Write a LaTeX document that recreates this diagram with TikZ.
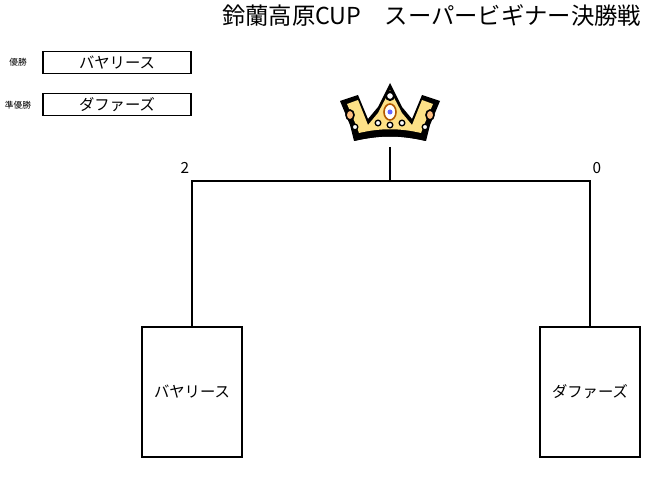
\documentclass[tikz,border=0pt]{standalone}
\usepackage{fontspec}
\setmainfont{Noto Sans CJK JP}
\begin{document}
\begin{tikzpicture}[x=0.75pt,y=-0.75pt,
  box/.style={draw,line width=0.8pt,inner sep=0pt},
  ln/.style={line width=0.8pt},
  lab/.style={font=\fontsize{11.5}{12}\selectfont}]
\useasboundingbox (0,0) rectangle (647,477);
\node[anchor=east,font=\fontsize{17.5}{18}\selectfont] (title) at (646,16) {鈴蘭高原CUP　スーパービギナー決勝戦};
\node[font=\fontsize{6.5}{7}\selectfont] (w1) at (18,62) {優勝};
\node[box,minimum width=111pt,minimum height=17pt,lab] (wb) at (117,62.5) {バヤリース};
\node[font=\fontsize{6.5}{7}\selectfont] (w2) at (18,105) {準優勝};
\node[box,minimum width=111pt,minimum height=17pt,lab] (rb) at (117,104.5) {ダファーズ};
% crown
\begin{scope}[shift={(390,115)}]
\fill[black] (-50,-14) -- (-32,-20) -- (-22,4) -- (-12,-8) -- (0,-32) -- (12,-8) -- (22,4) -- (32,-20) -- (50,-14) -- (40,10) -- (36,26) .. controls (10,20) and (-10,20) .. (-36,26) -- (-40,10) -- cycle;
\fill[yellow!55!orange!45] (-43,-11) -- (-32,-15) -- (-22,10) -- (-12,-2) -- (0,-25) -- (12,-2) -- (22,10) -- (32,-15) -- (43,-11) -- (34,10) -- (31,18) .. controls (10,13) and (-10,13) .. (-31,18) -- (-34,10) -- cycle;
\fill[black] (-34,21) .. controls (-10,14) and (10,14) .. (34,21) -- (36,26) .. controls (10,20) and (-10,20) .. (-36,26) -- cycle;
\draw[fill=white,line width=1.5pt] (0,-19) circle (4);
\draw[fill=white,draw=orange!70!black,line width=1.2pt] (0,-3) ellipse (6 and 8);
\fill[blue!60] (0,-3) circle (2.5);
\foreach \p in {(-12,8),(12,8),(0,10),(-35,12),(35,12)} \draw[fill=white,line width=1pt] \p circle (2.8);
\draw[fill=orange!50,line width=1.2pt] (-40,0) ellipse (4 and 5);
\draw[fill=orange!50,line width=1.2pt] (40,0) ellipse (4 and 5);
\end{scope}
\coordinate (top) at (390,147);
\coordinate (j) at (390,181);
\coordinate (lc) at (191,181);
\coordinate (rc) at (591,181);
\node[box,minimum width=75pt,minimum height=97.5pt,lab] (L) at (192,392) {バヤリース};
\node[box,minimum width=75pt,minimum height=97.5pt,lab] (R) at (590,392) {ダファーズ};
\draw[ln] (top) -- (j);
\draw[ln] (L.north) -- (L.north |- lc) -- (R.north |- rc) -- (R.north);
\node[lab] (s1) at (185,168) {2};
\node[lab] (s2) at (597,168) {0};
\end{tikzpicture}
\end{document}
